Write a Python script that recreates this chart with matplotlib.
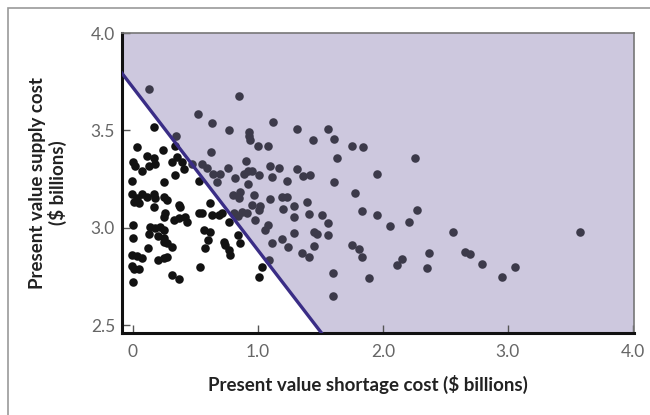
import numpy as np
import matplotlib
matplotlib.use("Agg")
import matplotlib.pyplot as plt
from matplotlib.patches import Rectangle

# scenarios below the trade-off line (black dots)
below_x = [0.17, 0.34, 0.03, 0.24, 0.11, 0.17, 0.18, 0.13, 0.00, 0.02,
           0.31, 0.35, 0.39, 0.41, 0.07, -0.01, 0.25, 0.34, 0.53, -0.01,
           0.03, 0.07, 0.11, 0.17, 0.18, 0.25, 0.27, 0.01, 0.05, 0.17,
           0.37, 0.38, 0.26, 0.245, 0.33, 0.37, 0.42, 0.43, 0.53, 0.55,
           0.63, 0.69, 0.71, 0.00, 0.14, 0.18, 0.22, 0.245, 0.125, 0.20,
           0.245, 0.00, 0.245, 0.27, 0.31, 0.12, -0.01, 0.03, 0.07, 0.20,
           0.245, 0.27, -0.01, 0.005, 0.045, 0.565, 0.62, 0.60, 0.58, 0.73,
           0.74, 0.766, 0.78, 0.54, 0.31, 0.37, 0.00, 0.62, 0.77, 0.84,
           0.86, 1.03, 1.01]
below_y = [3.52, 3.42, 3.415, 3.40, 3.37, 3.357, 3.327, 3.32, 3.337, 3.32,
           3.34, 3.365, 3.337, 3.30, 3.29, 3.24, 3.234, 3.27, 3.24, 3.174,
           3.152, 3.174, 3.16, 3.174, 3.152, 3.16, 3.144, 3.135, 3.127, 3.11,
           3.118, 3.106, 3.075, 3.055, 3.04, 3.05, 3.055, 3.032, 3.075, 3.078,
           3.068, 3.068, 3.075, 3.015, 3.007, 2.998, 3.007, 2.99, 2.97, 2.96,
           2.947, 2.947, 2.93, 2.925, 2.904, 2.895, 2.86, 2.856, 2.845, 2.836,
           2.845, 2.85, 2.805, 2.79, 2.79, 2.99, 2.98, 2.94, 2.896, 2.93,
           2.913, 2.887, 2.86, 2.80, 2.76, 2.74, 2.725, 3.13, 3.03, 2.964,
           2.925, 2.80, 2.75]

# scenarios above the trade-off line (grey dots on the shaded area)
above_x = [0.13, 0.846, 0.52, 0.632, 0.765, 0.344, 0.626, 1.12, 0.925, 0.93,
           0.94, 1.00, 1.08, 1.31, 1.56, 1.61, 1.44, 0.906, 1.10, 1.17,
           0.92, 0.95, 0.89, 1.01, 0.82, 1.11, 1.31, 1.36, 1.42, 1.23,
           1.61, 1.63, 0.76, 1.754, 1.84, 2.26, 1.95, 1.776, 1.83, 1.95,
           2.27, 2.21, 2.06, 2.56, 1.75, 1.81, 1.83, 2.37, 2.15, 2.11,
           2.35, 1.89, 2.656, 2.70, 2.79, 3.06, 2.95, 3.576, 1.60, 1.60,
           0.47, 0.55, 0.59, 0.64, 0.70, 0.67, 0.92, 0.80, 0.86, 0.85,
           0.97, 1.10, 1.19, 1.23, 1.39, 0.95, 1.02, 1.01, 1.29, 1.20,
           0.87, 0.91, 0.84, 0.81, 0.98, 1.29, 1.41, 1.51, 1.56, 1.08,
           1.06, 1.29, 1.45, 1.47, 1.56, 1.11, 1.19, 1.24, 1.45, 1.35,
           1.41, 1.09]
above_y = [3.713, 3.675, 3.583, 3.538, 3.50, 3.47, 3.39, 3.542, 3.494, 3.473,
           3.45, 3.42, 3.42, 3.51, 3.506, 3.456, 3.45, 3.344, 3.32, 3.306,
           3.29, 3.29, 3.275, 3.27, 3.255, 3.26, 3.30, 3.267, 3.27, 3.24,
           3.237, 3.36, 3.31, 3.42, 3.414, 3.357, 3.277, 3.178, 3.089, 3.065,
           3.092, 3.029, 3.012, 2.978, 2.914, 2.892, 2.85, 2.873, 2.839, 2.809,
           2.793, 2.742, 2.875, 2.867, 2.814, 2.80, 2.75, 2.981, 2.768, 2.65,
           3.33, 3.326, 3.31, 3.275, 3.275, 3.237, 3.226, 3.17, 3.186, 3.152,
           3.17, 3.147, 3.16, 3.157, 3.135, 3.118, 3.113, 3.092, 3.113, 3.096,
           3.084, 3.078, 3.06, 3.075, 3.04, 3.058, 3.072, 3.067, 3.027, 3.015,
           2.99, 2.976, 2.981, 2.969, 2.964, 2.925, 2.942, 2.904, 2.908, 2.873,
           2.85, 2.836]

# trade-off line: supply = intercept + slope * shortage
line_intercept = 3.72
line_slope = -0.834

x_ticks = [0, 1.0, 2.0, 3.0, 4.0]
x_tick_labels = ["0", "1.0", "2.0", "3.0", "4.0"]
y_ticks = [2.5, 3.0, 3.5, 4.0]
y_tick_labels = ["2.5", "3.0", "3.5", "4.0"]

W, H = 650, 415
fig = plt.figure(figsize=(W / 100, H / 100), dpi=100)
ax = fig.add_axes([122 / W, 82 / H, 512 / W, 300 / H])

xs = np.linspace(-0.2, 4.2, 50)
boundary = line_intercept + line_slope * xs
ax.fill_between(xs, boundary, 4.5, color="#cdc8de", lw=0, zorder=1)
ax.plot(xs, boundary, color="#3a2d86", lw=2.4, zorder=4)

ax.scatter(below_x, below_y, s=38, color="#121212", lw=0, zorder=3)
ax.scatter(above_x, above_y, s=38, color="#3c3a4a", lw=0, zorder=3)

ax.set_xlim(-0.088, 4.01)
ax.set_ylim(2.4615, 4.0)
ax.set_xticks(x_ticks)
ax.set_xticklabels(x_tick_labels, family="Lato", size=12.5)
ax.set_yticks(y_ticks)
ax.set_yticklabels(y_tick_labels, family="Lato", size=12.5)
ax.tick_params(direction="in", length=6, width=1, color="#555555",
               labelcolor="#666666")
ax.tick_params(axis="x", pad=8)
ax.tick_params(axis="y", pad=5)

for side in ["left", "bottom"]:
    ax.spines[side].set_linewidth(2.2)
    ax.spines[side].set_color("#111111")
for side in ["top", "right"]:
    ax.spines[side].set_linewidth(1.2)
    ax.spines[side].set_color("#777777")

ax.set_xlabel("Present value shortage cost ($ billions)", family="Lato",
              weight="bold", size=13.5, color="#222222", va="center")
ax.xaxis.set_label_coords(0.48, -(384 - 333) / 300)
ax.set_ylabel("Present value supply cost\n($ billions)", family="Lato",
              weight="bold", size=13.5, color="#222222", linespacing=1.15,
              va="center")
ax.yaxis.set_label_coords(-(122 - 48) / 512, 0.5)

# thin frame around the whole figure
fig.add_artist(Rectangle((8 / W, -0.1), 2, 1.1 - 8 / H, transform=fig.transFigure,
                         fill=False, ec="#999999", lw=1.2))

fig.savefig("out.png", dpi=100)
